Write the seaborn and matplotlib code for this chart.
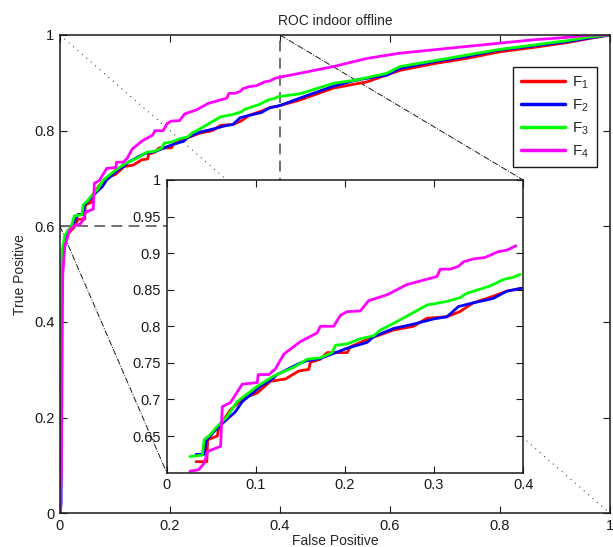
import matplotlib
matplotlib.use('Agg')
import matplotlib.pyplot as plt
import numpy as np
import pandas as pd
import seaborn as sns

# ---------------- data ----------------
series_names = ['F$_1$', 'F$_2$', 'F$_3$', 'F$_4$']
series_colors = ['#ff0000', '#0000ff', '#00ff00', '#ff00ff']

f1_fp = [0, 0.001, 0.003, 0.008, 0.015, 0.025, 0.033, 0.045, 0.046, 0.0568, 0.0586, 0.0717, 0.0866,
         0.1016, 0.1165, 0.1333, 0.1483, 0.1594, 0.1613, 0.1725, 0.180, 0.2025, 0.2062, 0.225, 0.2547,
         0.277, 0.292, 0.3145, 0.329, 0.344, 0.3664, 0.3817, 0.3985, 0.436, 0.497, 0.558, 0.618, 0.679,
         0.739, 0.8, 0.861, 0.921, 0.964, 1.0]
f1_tp = [0, 0.30, 0.50, 0.56, 0.585, 0.597, 0.615, 0.615, 0.645, 0.650, 0.663, 0.686, 0.702, 0.709,
         0.725, 0.728, 0.739, 0.741, 0.751, 0.755, 0.764, 0.764, 0.772, 0.782, 0.795, 0.800, 0.811,
         0.813, 0.820, 0.832, 0.841, 0.848, 0.852, 0.864, 0.889, 0.902, 0.926, 0.940, 0.951, 0.965,
         0.974, 0.984, 0.993, 1.0]

f2_fp = [0, 0.002, 0.003, 0.006, 0.012, 0.02, 0.033, 0.042, 0.044, 0.053, 0.064, 0.077, 0.0848,
         0.0978, 0.1053, 0.1165, 0.124, 0.1483, 0.1576, 0.1725, 0.2025, 0.225, 0.2323, 0.2547, 0.277,
         0.2995, 0.3145, 0.3275, 0.344, 0.3664, 0.3817, 0.3985, 0.436, 0.497, 0.539, 0.594, 0.618,
         0.679, 0.739, 0.8, 0.861, 0.921, 0.964, 1.0]
f2_tp = [0, 0.02, 0.45, 0.54, 0.585, 0.598, 0.625, 0.625, 0.643, 0.656, 0.669, 0.683, 0.697, 0.710,
         0.718, 0.726, 0.734, 0.749, 0.753, 0.756, 0.770, 0.778, 0.786, 0.797, 0.803, 0.810, 0.813,
         0.827, 0.832, 0.838, 0.848, 0.852, 0.868, 0.893, 0.906, 0.916, 0.930, 0.944, 0.955, 0.969,
         0.977, 0.986, 0.994, 1.0]

f3_fp = [0, 0.0012, 0.004, 0.0085, 0.0145, 0.020, 0.026, 0.040, 0.042, 0.049, 0.055, 0.068, 0.079,
         0.1016, 0.120, 0.1427, 0.1576, 0.1725, 0.1857, 0.1894, 0.2025, 0.2174, 0.2323, 0.240, 0.2547,
         0.2696, 0.292, 0.3145, 0.329, 0.3366, 0.3627, 0.378, 0.389, 0.3966, 0.436, 0.497, 0.539,
         0.594, 0.618, 0.679, 0.739, 0.8, 0.861, 0.921, 0.964, 1.0]
f3_tp = [0, 0.494, 0.55, 0.58, 0.592, 0.598, 0.622, 0.624, 0.645, 0.652, 0.661, 0.677, 0.697, 0.718,
         0.732, 0.744, 0.755, 0.757, 0.764, 0.774, 0.776, 0.783, 0.787, 0.795, 0.804, 0.814, 0.829,
         0.834, 0.839, 0.845, 0.855, 0.864, 0.867, 0.871, 0.877, 0.899, 0.906, 0.920, 0.934, 0.946,
         0.958, 0.970, 0.979, 0.988, 0.996, 1.0]

f4_fp = [0, 0.0024, 0.005, 0.0085, 0.0176, 0.026, 0.036, 0.042, 0.046, 0.0605, 0.0624, 0.0717,
         0.0848, 0.1016, 0.1027, 0.1147, 0.1221, 0.1315, 0.150, 0.1688, 0.1725, 0.1874, 0.195, 0.2025,
         0.2174, 0.2266, 0.2472, 0.2696, 0.3033, 0.307, 0.318, 0.3275, 0.333, 0.344, 0.357, 0.372,
         0.3817, 0.392, 0.436, 0.497, 0.558, 0.618, 0.679, 0.739, 0.8, 0.861, 0.921, 0.964, 1.0]
f4_tp = [0, 0.09, 0.50, 0.557, 0.592, 0.602, 0.604, 0.613, 0.629, 0.636, 0.690, 0.696, 0.721, 0.723,
         0.734, 0.734, 0.742, 0.762, 0.779, 0.791, 0.800, 0.800, 0.815, 0.820, 0.821, 0.835, 0.843,
         0.857, 0.868, 0.878, 0.878, 0.882, 0.888, 0.892, 0.894, 0.902, 0.904, 0.910, 0.920, 0.934,
         0.951, 0.962, 0.969, 0.976, 0.983, 0.990, 0.995, 1.0, 1.0]

main_xticks = [0, 0.2, 0.4, 0.6, 0.8, 1]
main_xticklabels = ['0', '0.2', '0.4', '0.6', '0.8', '1']
main_yticks = [0, 0.2, 0.4, 0.6, 0.8, 1]
main_yticklabels = ['0', '0.2', '0.4', '0.6', '0.8', '1']
inset_xticks = [0, 0.1, 0.2, 0.3, 0.4]
inset_xticklabels = ['0', '0.1', '0.2', '0.3', '0.4']
inset_yticks = [0.65, 0.7, 0.75, 0.8, 0.85, 0.9, 0.95, 1]
inset_yticklabels = ['0.65', '0.7', '0.75', '0.8', '0.85', '0.9', '0.95', '1']

zoom_x = (0.0, 0.4)
zoom_y = (0.6, 1.0)
inset_x = (0.194, 0.842)   # inset placement in main data coords
inset_y = (0.085, 0.697)

# -------------- build table --------------
frames = []
for name, fp, tp in zip(series_names, [f1_fp, f2_fp, f3_fp, f4_fp], [f1_tp, f2_tp, f3_tp, f4_tp]):
    frames.append(pd.DataFrame({'fp': fp, 'tp': tp, 'series': name}))
df = pd.concat(frames, ignore_index=True)
# the zoomed view only shows the points lying inside the zoom window
df_zoom = df[(df['fp'] >= zoom_x[0]) & (df['fp'] <= zoom_x[1]) &
             (df['tp'] >= zoom_y[0]) & (df['tp'] <= zoom_y[1])]
palette = dict(zip(series_names, series_colors))

# -------------- style --------------
sns.set_theme(style='ticks')
plt.rcParams['font.family'] = ['Liberation Sans', 'DejaVu Sans']
plt.rcParams['mathtext.fontset'] = 'custom'
plt.rcParams['mathtext.rm'] = 'Liberation Sans'
plt.rcParams['mathtext.default'] = 'regular'

fig = plt.figure(figsize=(6.13, 5.47), dpi=100)
fig.patch.set_facecolor('white')
ax = fig.add_axes([60 / 613, 1 - 513.3 / 547, 550 / 613, 478.3 / 547])

sns.lineplot(data=df, x='fp', y='tp', hue='series', hue_order=series_names, palette=palette,
             sort=False, estimator=None, linewidth=2.0, ax=ax, legend=True)

ax.set_xlim(0, 1)
ax.set_ylim(0, 1)
ax.set_xticks(main_xticks)
ax.set_xticklabels(main_xticklabels)
ax.set_yticks(main_yticks)
ax.set_yticklabels(main_yticklabels)
ax.tick_params(direction='in', top=True, right=True, length=5, width=0.8,
               labelsize=10.5, pad=4, colors='k')
for s in ax.spines.values():
    s.set_linewidth(1.1)
    s.set_color('k')
ax.set_xlabel('False Positive', fontsize=10, labelpad=1)
ax.set_ylabel('True Positive', fontsize=10, labelpad=5)
ax.set_title('ROC indoor offline', fontsize=10, pad=7)

# zoom rectangle (dashed) and connectors
ax.plot([zoom_x[0], zoom_x[1], zoom_x[1]], [zoom_y[0], zoom_y[0], zoom_y[1]],
        ls='--', color='0.4', lw=1.3, dashes=(6, 3.5), zorder=1)
ax.plot([zoom_x[1], inset_x[1]], [zoom_y[1], inset_y[1]], color='k', lw=0.7, ls='-.', zorder=1)
ax.plot([zoom_x[0], inset_x[0]], [zoom_y[0], inset_y[0]], color='k', lw=0.7, ls='-.', zorder=1)
ax.plot([0, 1], [1, 0], color='k', lw=0.7, ls=(0, (1, 5)), zorder=1)

handles, labels = ax.get_legend_handles_labels()
leg = ax.legend(handles, labels, loc='upper right', bbox_to_anchor=(0.976, 0.933),
                borderaxespad=0, frameon=True, fancybox=False, edgecolor='k', framealpha=1,
                fontsize=11, handlelength=2.9, labelspacing=0.42, borderpad=0.5,
                handletextpad=0.45)
leg.get_frame().set_linewidth(1.0)
for h in leg.get_lines():
    h.set_linewidth(2.5)

# -------------- inset --------------
axins = ax.inset_axes([inset_x[0], inset_y[0], inset_x[1] - inset_x[0], inset_y[1] - inset_y[0]],
                      transform=ax.transData)
axins.set_facecolor('white')
sns.lineplot(data=df_zoom, x='fp', y='tp', hue='series', hue_order=series_names, palette=palette,
             sort=False, estimator=None, linewidth=2.0, ax=axins, legend=False)
axins.set_xlim(0, 0.4)
axins.set_ylim(0.6, 1.0)
axins.set_xticks(inset_xticks)
axins.set_xticklabels(inset_xticklabels)
axins.set_yticks(inset_yticks)
axins.set_yticklabels(inset_yticklabels)
axins.tick_params(direction='in', top=True, right=True, length=5, width=0.8,
                  labelsize=10.5, pad=4, colors='k')
axins.set_xlabel('')
axins.set_ylabel('')
for s in axins.spines.values():
    s.set_linewidth(1.1)
    s.set_color('k')

fig.savefig('out.png', dpi=100, facecolor='white')
